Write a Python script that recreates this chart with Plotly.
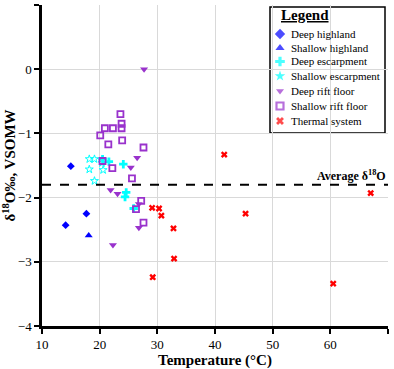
import plotly.graph_objects as go

deep_highland_x = [15.0, 14.1, 17.7]
deep_highland_y = [-1.51, -2.43, -2.25]
shallow_highland_x = [18.1]
shallow_highland_y = [-2.59]
deep_escarp_x = [20.5, 21.6, 24.1, 24.6, 24.4, 25.9]
deep_escarp_y = [-1.40, -1.44, -1.48, -1.92, -1.99, -2.17]
shallow_escarp_x = [18.2, 19.1, 18.2, 20.6, 19.1, 20.4]
shallow_escarp_y = [-1.40, -1.40, -1.56, -1.57, -1.74, -1.46]
deep_rift_x = [27.7, 26.5, 25.4, 21.9, 23.1, 26.8, 26.8, 22.3]
deep_rift_y = [0.0, -1.38, -1.53, -1.88, -1.94, -2.10, -2.47, -2.74]
shallow_rift_x = [23.6, 23.8, 23.8, 20.9, 22.3, 20.1, 23.9, 21.5, 27.6, 20.5, 22.2, 25.6, 27.2, 26.3, 27.6]
shallow_rift_y = [-0.70, -0.85, -0.92, -0.92, -0.92, -1.03, -1.11, -1.17, -1.22, -1.43, -1.54, -1.70, -2.05, -2.18, -2.39]
thermal_x = [29.1, 30.3, 30.7, 32.8, 32.9, 29.2, 41.6, 67.0, 45.3, 60.5]
thermal_y = [-2.16, -2.17, -2.28, -2.48, -2.95, -3.24, -1.33, -1.93, -2.25, -3.34]
average_d18o = -1.8

series_names = ["Deep highland", "Shallow highland", "Deep escarpment", "Shallow escarpment",
                "Deep rift floor", "Shallow rift floor", "Thermal system"]

FONT = "Liberation Serif"
BLUE = "#0000ff"
CYAN = "#00ffff"
PURPLE = "#9932cc"
RED = "#ff0000"

styles = [
    dict(symbol="diamond", color=BLUE, size=6),
    dict(symbol="triangle-up", color=BLUE, size=7),
    dict(symbol="cross", color=CYAN, size=7),
    dict(symbol="star-open", color=CYAN, size=6, line=dict(color=CYAN, width=1)),
    dict(symbol="triangle-down", color=PURPLE, size=7),
    dict(symbol="square-open", color=PURPLE, size=6, line=dict(color=PURPLE, width=1.8)),
    dict(symbol="x", color=RED, size=6),
]
legend_styles = [
    dict(symbol="diamond", color=BLUE, size=8),
    dict(symbol="triangle-up", color=BLUE, size=8),
    dict(symbol="cross", color=CYAN, size=8),
    dict(symbol="star", color=CYAN, size=8),
    dict(symbol="triangle-down", color=PURPLE, size=7),
    dict(symbol="square-open", color=PURPLE, size=7, line=dict(color=PURPLE, width=2.2)),
    dict(symbol="x", color=RED, size=7),
]
xs = [deep_highland_x, shallow_highland_x, deep_escarp_x, shallow_escarp_x, deep_rift_x, shallow_rift_x, thermal_x]
ys = [deep_highland_y, shallow_highland_y, deep_escarp_y, shallow_escarp_y, deep_rift_y, shallow_rift_y, thermal_y]

fig = go.Figure()
for name, x, y, st in zip(series_names, xs, ys, styles):
    fig.add_trace(go.Scatter(x=x, y=y, mode="markers", name=name, marker=st, showlegend=False,
                             hoverinfo="skip"))

fig.add_shape(type="line", xref="paper", x0=0, x1=1, yref="y", y0=average_d18o, y1=average_d18o,
              line=dict(color="black", width=2, dash="dash"))
fig.add_annotation(x=1, xref="paper", y=average_d18o, yref="y", text="<b>Average δ<sup>18</sup>O</b>",
                   showarrow=False, xanchor="right", yanchor="bottom", yshift=0,
                   font=dict(family=FONT, size=12, color="black"))

# manual legend (plot area: px 42..388 horizontally, 5..326 vertically)
L, R, T, B = 42, 388, 5, 326
def px_x(p):
    return (p - L) / (R - L)
def px_y(p):
    return (B - p) / (B - T)

fig.add_shape(type="rect", xref="paper", yref="paper", x0=px_x(270), x1=px_x(385),
              y0=px_y(133), y1=px_y(7), line=dict(color="black", width=1.5), fillcolor="white",
              layer="between")
fig.add_annotation(x=px_x(305), y=px_y(15), xref="paper", yref="paper",
                   text="<b><span style='text-decoration:underline'>Legend</span></b>",
                   showarrow=False, xanchor="center", yanchor="middle",
                   font=dict(family=FONT, size=15, color="black"))
row_px = [34, 48, 61.5, 76, 91, 106, 121]
for name, st, rp in zip(series_names, legend_styles, row_px):
    fig.add_annotation(x=px_x(289), y=px_y(rp), xref="paper", yref="paper", text=name,
                       showarrow=False, xanchor="left", yanchor="middle",
                       font=dict(family=FONT, size=11, color="black"))
fig.add_trace(go.Scatter(x=[px_x(280)] * len(row_px), y=[px_y(r) for r in row_px],
                         mode="markers", xaxis="x2", yaxis="y2", showlegend=False, hoverinfo="skip",
                         marker=dict(symbol=[s["symbol"] for s in legend_styles],
                                     color=[s["color"] for s in legend_styles],
                                     size=[s["size"] for s in legend_styles],
                                     line=dict(color=[s["color"] for s in legend_styles],
                                               width=[s.get("line", {}).get("width", 0) for s in legend_styles]))))

axis_common = dict(showline=True, linecolor="black", linewidth=2.5, ticks="outside", ticklen=5,
                   tickwidth=2, tickcolor="black", showgrid=True, gridcolor="#d9d9d9", gridwidth=1,
                   zeroline=False, tickfont=dict(family=FONT, size=13, color="black"))
fig.update_layout(
    xaxis=dict(range=[10, 70], dtick=10, title=dict(text="<b>Temperature (°C)</b>",
               font=dict(family=FONT, size=15, color="black"), standoff=4), **axis_common),
    yaxis=dict(range=[-4, 1], dtick=1, title=dict(text="<b>δ<sup>18</sup>O‰, VSOMW</b>",
               font=dict(family=FONT, size=15, color="black"), standoff=1), **axis_common),
    xaxis2=dict(range=[0, 1], overlaying="x", visible=False, fixedrange=True),
    yaxis2=dict(range=[0, 1], overlaying="y", visible=False, fixedrange=True),
    width=394, height=369,
    margin=dict(l=L, r=394 - R, t=T, b=369 - B, autoexpand=False),
    plot_bgcolor="white", paper_bgcolor="white",
    font=dict(family=FONT, size=12, color="black"),
    showlegend=False,
)
fig.write_html("out.html", post_script="document.body.style.margin='0';",
               config={"displayModeBar": False})
